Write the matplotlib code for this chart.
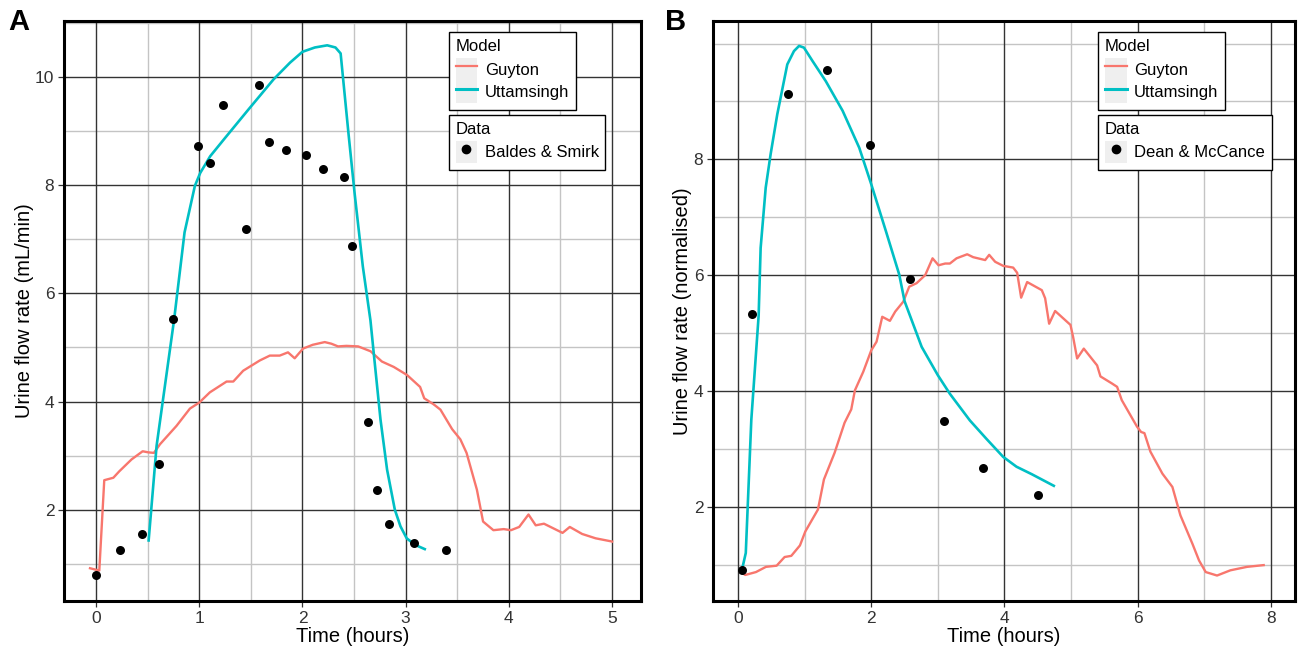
import matplotlib
matplotlib.use("Agg")
import matplotlib.pyplot as plt
from matplotlib.patches import Rectangle
from matplotlib.lines import Line2D
from matplotlib.legend_handler import HandlerTuple
from matplotlib.ticker import FixedLocator

plt.rcParams['font.family'] = ['Liberation Sans', 'DejaVu Sans']

# ---- Panel A data (mL/min) ----
guyton_a_t = [-0.058, 0.032, 0.08, 0.168, 0.226, 0.345, 0.452, 0.506, 0.561, 0.62,
              0.78, 0.91, 1.0, 1.103, 1.265, 1.33, 1.426, 1.587, 1.684, 1.78,
              1.86, 1.925, 2.006, 2.1, 2.216, 2.28, 2.345, 2.426, 2.54, 2.66,
              2.77, 2.885, 3.014, 3.14, 3.18, 3.27, 3.337, 3.45, 3.53, 3.59,
              3.69, 3.75, 3.85, 3.95, 4.02, 4.1, 4.19, 4.26, 4.34, 4.52,
              4.59, 4.71, 4.84, 5.0]
guyton_a_y = [0.916, 0.873, 2.545, 2.59, 2.71, 2.93, 3.08, 3.06, 3.05, 3.21,
              3.55, 3.87, 3.98, 4.17, 4.37, 4.37, 4.57, 4.76, 4.85, 4.85,
              4.91, 4.80, 4.98, 5.05, 5.10, 5.07, 5.02, 5.03, 5.02, 4.93,
              4.74, 4.64, 4.49, 4.27, 4.06, 3.95, 3.85, 3.49, 3.30, 3.05,
              2.37, 1.78, 1.62, 1.64, 1.62, 1.68, 1.91, 1.71, 1.74, 1.57,
              1.68, 1.55, 1.47, 1.41]

utt_a_t = [0.51, 0.587, 0.757, 0.858, 0.958, 1.01, 1.107, 1.239, 1.48, 1.72,
           1.88, 2.0, 2.12, 2.24, 2.32, 2.37, 2.445, 2.505, 2.585, 2.659,
           2.69, 2.756, 2.82, 2.895, 2.95, 3.01, 3.09, 3.185]
utt_a_y = [1.43, 3.18, 5.52, 7.13, 7.99, 8.23, 8.54, 8.85, 9.41, 9.96,
           10.27, 10.47, 10.55, 10.59, 10.55, 10.44, 8.98, 7.86, 6.5, 5.5,
           4.91, 3.67, 2.74, 2.0, 1.69, 1.47, 1.35, 1.27]

baldes_t = [0.0, 0.235, 0.445, 0.606, 0.746, 0.986, 1.107, 1.231, 1.456, 1.577,
            1.677, 1.842, 2.03, 2.195, 2.40, 2.48, 2.64, 2.72, 2.837, 3.076, 3.39]
baldes_y = [0.79, 1.245, 1.55, 2.85, 5.52, 8.72, 8.42, 9.49, 7.2, 9.86,
            8.81, 8.65, 8.57, 8.31, 8.15, 6.88, 3.62, 2.37, 1.74, 1.38, 1.245]

# ---- Panel B data (normalised) ----
guyton_b_t = [0.036, 0.11, 0.27, 0.42, 0.58, 0.70, 0.80, 0.93, 1.01, 1.2,
              1.29, 1.45, 1.6, 1.7, 1.755, 1.88, 2.0, 2.08, 2.165, 2.28,
              2.36, 2.48, 2.57, 2.68, 2.81, 2.92, 3.01, 3.11, 3.18, 3.28,
              3.44, 3.53, 3.71, 3.77, 3.86, 3.98, 4.13, 4.19, 4.25, 4.34,
              4.56, 4.61, 4.67, 4.76, 4.99, 5.03, 5.09, 5.19, 5.39, 5.44,
              5.61, 5.69, 5.76, 5.99, 6.05, 6.10, 6.19, 6.37, 6.52, 6.64,
              6.82, 6.92, 7.02, 7.19, 7.39, 7.64, 7.89]
guyton_b_y = [0.87, 0.82, 0.87, 0.96, 0.98, 1.13, 1.15, 1.33, 1.57, 1.95,
              2.47, 2.93, 3.45, 3.68, 4.01, 4.33, 4.70, 4.85, 5.28, 5.21,
              5.37, 5.54, 5.80, 5.86, 6.0, 6.29, 6.17, 6.20, 6.20, 6.29,
              6.36, 6.31, 6.26, 6.35, 6.23, 6.16, 6.13, 6.04, 5.61, 5.88,
              5.74, 5.60, 5.16, 5.38, 5.14, 4.93, 4.56, 4.73, 4.44, 4.25,
              4.13, 4.07, 3.84, 3.38, 3.29, 3.27, 2.95, 2.57, 2.34, 1.85,
              1.36, 1.07, 0.87, 0.81, 0.90, 0.96, 0.99]

utt_b_t = [0.06, 0.117, 0.2, 0.31, 0.34, 0.416, 0.49, 0.59, 0.74, 0.84,
           0.917, 0.99, 1.118, 1.318, 1.57, 1.82, 2.0, 2.22, 2.42, 2.5,
           2.757, 3.0, 3.18, 3.48, 3.73, 3.98, 4.18, 4.41, 4.74]
utt_b_y = [0.91, 1.2, 3.5, 5.3, 6.47, 7.51, 8.09, 8.78, 9.64, 9.87,
           9.96, 9.93, 9.70, 9.35, 8.84, 8.2, 7.57, 6.76, 6.01, 5.55,
           4.76, 4.27, 3.95, 3.49, 3.17, 2.86, 2.69, 2.56, 2.36]

dean_t = [0.06, 0.21, 0.75, 1.333, 1.98, 2.58, 3.09, 3.67, 4.5]
dean_y = [0.91, 5.32, 9.135, 9.54, 8.24, 5.94, 3.48, 2.66, 2.2]

RED = '#F8766D'
TEAL = '#00BFC4'

fig = plt.figure(figsize=(12.98, 6.51), dpi=100)
ax_a = fig.add_axes([64 / 1298, 1 - 601 / 651, 577 / 1298, 580 / 651])
ax_b = fig.add_axes([713 / 1298, 1 - 601 / 651, 582 / 1298, 580 / 651])


def style_axes(ax, xmaj, xmin, ymaj, ymin, xlim, ylim, ylabel):
    ax.set_xlim(*xlim)
    ax.set_ylim(*ylim)
    ax.xaxis.set_major_locator(FixedLocator(xmaj))
    ax.yaxis.set_major_locator(FixedLocator(ymaj))
    for v in xmin:
        ax.axvline(v, color='#C4C4C4', lw=1.0, zorder=0)
    for v in ymin:
        ax.axhline(v, color='#C4C4C4', lw=1.0, zorder=0)
    for v in xmaj:
        ax.axvline(v, color='#333333', lw=1.0, zorder=0.5)
    for v in ymaj:
        ax.axhline(v, color='#333333', lw=1.0, zorder=0.5)
    for s in ax.spines.values():
        s.set_linewidth(2.2)
        s.set_color('black')
    ax.tick_params(length=4, width=0.9, color='#333333', labelsize=12.5,
                   labelcolor='#333333', pad=3)
    ax.set_xlabel('Time (hours)', fontsize=14.5, labelpad=1)
    ax.set_ylabel(ylabel, fontsize=14.5, labelpad=1)


def add_legends(ax, x, data_label):
    def bg():
        return Rectangle((0, 0), 1, 1, facecolor='#EFEFEF', edgecolor='none')
    common = dict(loc='upper left', borderaxespad=0, fontsize=12,
                  title_fontsize=12, fancybox=False, framealpha=1,
                  edgecolor='black', handlelength=1.3, handleheight=1.7,
                  handletextpad=0.45, labelspacing=0.0, borderpad=0.4,
                  alignment='left',
                  handler_map={tuple: HandlerTuple(ndivide=1, pad=0)})
    h1 = [(bg(), Line2D([], [], color=RED, lw=1.6)),
          (bg(), Line2D([], [], color=TEAL, lw=2.2))]
    leg1 = ax.legend(h1, ['Guyton', 'Uttamsingh'], title='Model',
                     bbox_to_anchor=(x, 0.9805), **common)
    leg1.get_frame().set_linewidth(1.0)
    ax.add_artist(leg1)
    h2 = [(bg(), Line2D([], [], color='black', marker='o', ls='none', ms=6))]
    leg2 = ax.legend(h2, [data_label], title='Data',
                     bbox_to_anchor=(x, 0.838), **common)
    leg2.get_frame().set_linewidth(1.0)
    for leg in (leg1, leg2):
        leg.set_zorder(10)
        leg._legend_box.sep = 3


# Panel A
ax_a.plot(guyton_a_t, guyton_a_y, color=RED, lw=1.7, zorder=3)
ax_a.plot(utt_a_t, utt_a_y, color=TEAL, lw=1.9, zorder=3)
ax_a.scatter(baldes_t, baldes_y, s=42, color='black', zorder=4, linewidths=0)
style_axes(ax_a, [0, 1, 2, 3, 4, 5], [0.5, 1.5, 2.5, 3.5, 4.5],
           [2, 4, 6, 8, 10], [1, 3, 5, 7, 9, 11],
           (-0.31, 5.28), (0.31, 11.04), 'Urine flow rate (mL/min)')
add_legends(ax_a, 0.667, 'Baldes & Smirk')

# Panel B
ax_b.plot(guyton_b_t, guyton_b_y, color=RED, lw=1.7, zorder=3)
ax_b.plot(utt_b_t, utt_b_y, color=TEAL, lw=1.9, zorder=3)
ax_b.scatter(dean_t, dean_y, s=42, color='black', zorder=4, linewidths=0)
style_axes(ax_b, [0, 2, 4, 6, 8], [1, 3, 5, 7],
           [2, 4, 6, 8], [1, 3, 5, 7, 9, 10],
           (-0.375, 8.36), (0.37, 10.39), 'Urine flow rate (normalised)')
add_legends(ax_b, 0.662, 'Dean & McCance')

fig.text(0.006, 0.988, 'A', fontsize=21, fontweight='bold', va='top', ha='left')
fig.text(0.512, 0.988, 'B', fontsize=21, fontweight='bold', va='top', ha='left')

fig.savefig('out.png', dpi=100)
